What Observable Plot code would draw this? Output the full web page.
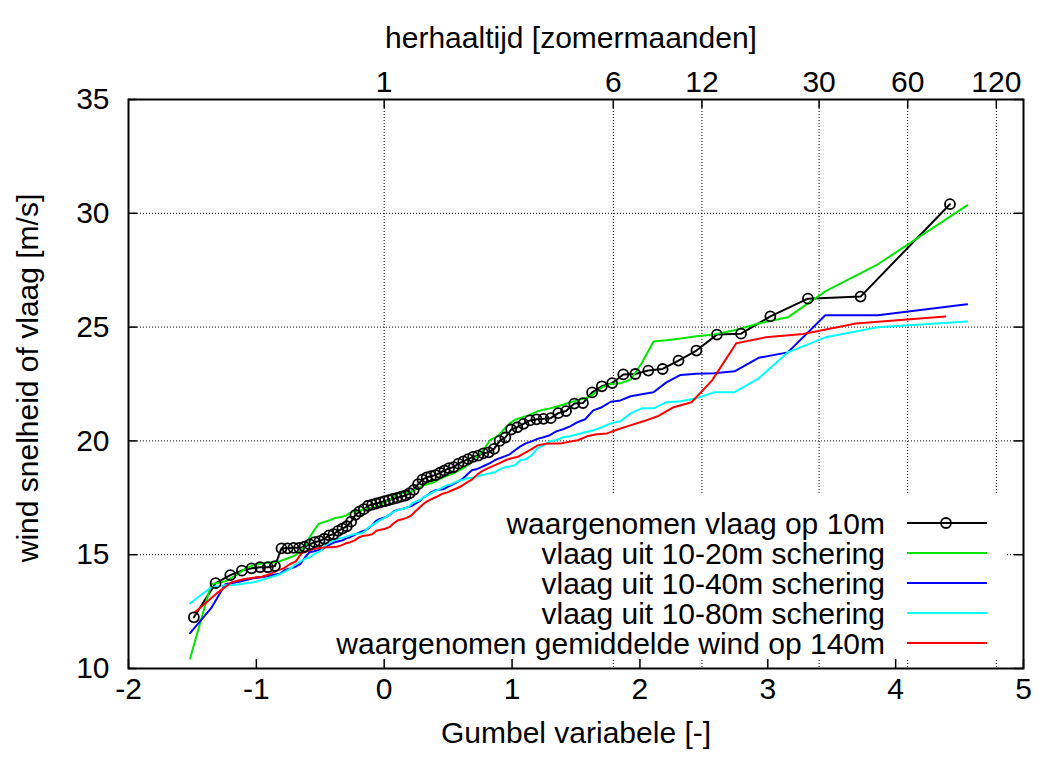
<!DOCTYPE html>
<html>
<head>
<meta charset="utf-8">
<script src="https://cdn.jsdelivr.net/npm/d3@7"></script>
<script src="https://cdn.jsdelivr.net/npm/@observablehq/plot@0.6"></script>
<style>
  html, body { margin: 0; padding: 0; background: #fff; }
</style>
</head>
<body>
<div id="chart"></div>
<script>
// ---- tick labels ----
const xTicks = [-2, -1, 0, 1, 2, 3, 4, 5];          // Gumbel variabele
const yTicks = [10, 15, 20, 25, 30, 35];            // wind speed
const yGrid = [15, 20, 25, 30];
const x2Ticks = [1, 6, 12, 30, 60, 120];            // herhaaltijd [zomermaanden], placed at ln(T)

// ---- sorted sample values (m/s), plotted at Gumbel plotting positions of their rank ----
const obs10 = [
  12.25, 13.75, 14.1, 14.3, 14.4, 14.45, 14.45, 14.5, 15.28, 15.28,
  15.3, 15.3, 15.35, 15.45, 15.55, 15.6, 15.7, 15.85, 15.9, 16.05,
  16.15, 16.25, 16.45, 16.75, 16.9, 17.0, 17.15, 17.2, 17.25, 17.3,
  17.35, 17.4, 17.45, 17.5, 17.55, 17.6, 17.7, 17.85, 18.1, 18.3,
  18.4, 18.45, 18.5, 18.6, 18.7, 18.8, 18.85, 19.0, 19.1, 19.2,
  19.3, 19.35, 19.45, 19.5, 19.65, 20.0, 20.15, 20.5, 20.6, 20.75,
  20.9, 20.95, 20.97, 21.0, 21.22, 21.31, 21.64, 21.66, 22.13, 22.4,
  22.54, 22.92, 22.94, 23.09, 23.16, 23.53, 23.97, 24.67, 24.71, 25.47,
  26.25, 26.34, 30.4
];
const gust20 = [
  10.44, 13.70, 13.83, 14.10, 14.40, 14.54, 14.60, 14.65, 14.67, 14.71,
  14.80, 14.89, 14.98, 15.2, 15.37, 15.77, 16.07, 16.34, 16.42, 16.47,
  16.53, 16.60, 16.64, 16.67, 16.73, 16.84, 16.91, 16.93, 16.95, 17.0,
  17.04, 17.06, 17.1, 17.17, 17.26, 17.35, 17.43, 17.57, 17.68, 17.70,
  17.72, 17.74, 17.79, 17.87, 17.96, 18.05, 18.09, 18.14, 18.2, 18.31,
  18.40, 18.47, 18.53, 18.6, 18.71, 18.8, 18.93, 19.15, 19.28, 19.46,
  19.72, 20.03, 20.14, 20.29, 20.55, 20.77, 20.93, 21.01, 21.08, 21.19,
  21.30, 21.37, 21.43, 21.50, 21.59, 21.70, 21.78, 21.87, 22.05, 22.35,
  22.5, 22.53, 22.7, 23.41, 24.37, 24.42, 24.5, 24.6, 24.68, 24.86,
  25.16, 25.43, 26.57, 27.76, 30.35
];
const gust40 = [
  11.55, 12.65, 13.70, 13.79, 13.88, 13.97, 14.01, 14.05, 14.12, 14.16,
  14.34, 14.40, 14.47, 14.60, 14.89, 15.11, 15.15, 15.20, 15.24, 15.37,
  15.46, 15.55, 15.59, 15.63, 15.72, 15.77, 15.85, 15.94, 16.01, 16.07,
  16.16, 16.29, 16.47, 16.56, 16.62, 16.67, 16.78, 16.91, 16.97, 17.0,
  17.04, 17.1, 17.15, 17.26, 17.35, 17.52, 17.61, 17.74, 17.83, 17.85,
  17.87, 17.96, 18.05, 18.14, 18.23, 18.36, 18.53, 18.71, 18.75, 18.84,
  18.93, 19.02, 19.15, 19.24, 19.32, 19.41, 19.59, 19.76, 19.89, 19.98,
  20.09, 20.16, 20.25, 20.42, 20.51, 20.64, 20.82, 20.95, 21.34, 21.48,
  21.72, 21.78, 21.96, 22.05, 22.14, 22.57, 22.90, 22.95, 22.97, 23.06,
  23.65, 23.89, 25.52, 25.52, 26.0
];
const gust80 = [
  12.87, 13.57, 13.66, 13.68, 13.75, 13.79, 13.88, 13.97, 14.05, 14.14,
  14.27, 14.40, 14.58, 14.71, 14.82, 14.89, 15.02, 15.11, 15.24, 15.46,
  15.55, 15.63, 15.72, 15.74, 15.79, 15.85, 15.90, 15.92, 15.94, 16.03,
  16.2, 16.29, 16.4, 16.51, 16.58, 16.67, 16.78, 16.89, 16.95, 17.0,
  17.04, 17.1, 17.26, 17.33, 17.39, 17.52, 17.61, 17.70, 17.79, 17.87,
  17.96, 18.05, 18.09, 18.18, 18.25, 18.29, 18.36, 18.38, 18.42, 18.49,
  18.53, 18.58, 18.62, 18.75, 18.84, 18.88, 18.93, 19.15, 19.19, 19.37,
  19.67, 19.81, 19.98, 20.03, 20.16, 20.2, 20.29, 20.38, 20.47, 20.6,
  20.77, 20.86, 21.21, 21.43, 21.43, 21.70, 21.74, 21.87, 22.14, 22.14,
  22.75, 23.89, 24.55, 24.99, 25.25
];
const mean140 = [
  12.47, 13.31, 13.79, 13.92, 13.99, 14.03, 14.14, 14.30, 14.40, 14.58,
  14.71, 15.06, 15.15, 15.24, 15.28, 15.31, 15.33, 15.33, 15.35, 15.41,
  15.5, 15.55, 15.63, 15.77, 15.83, 15.85, 15.9, 16.05, 16.1, 16.14,
  16.21, 16.38, 16.51, 16.56, 16.62, 16.71, 16.91, 17.08, 17.26, 17.39,
  17.48, 17.57, 17.68, 17.74, 17.83, 17.92, 18.03, 18.18, 18.31, 18.53,
  18.69, 18.8, 18.91, 19.02, 19.15, 19.24, 19.30, 19.46, 19.63, 19.81,
  19.87, 19.89, 19.89, 19.96, 20.03, 20.2, 20.29, 20.33, 20.51, 20.68,
  20.86, 21.08, 21.48, 21.7, 22.66, 24.29, 24.55, 24.70, 25.16, 25.47
];

const seriesNames = [
  "waargenomen vlaag op 10m",
  "vlaag uit 10-20m schering",
  "vlaag uit 10-40m schering",
  "vlaag uit 10-80m schering",
  "waargenomen gemiddelde wind op 140m"
];
const seriesValues = [obs10, gust20, gust40, gust80, mean140];
const seriesColors = ["#000000", "#00e600", "#0000ff", "#00ffff", "#ff0000"];

// Gumbel reduced variate of the plotting position i/(n+1) for sorted values
function gumbelTable(values) {
  const n = values.length;
  return values.map((v, k) => ({ x: -Math.log(-Math.log((k + 1) / (n + 1))), y: v }));
}
const tables = seriesValues.map(gumbelTable);

// ---- layout ----
const W = 1040, H = 760;
const mL = 128, mR = 17, mT = 99, mB = 92;
const pw = W - mL - mR, ph = H - mT - mB;
const fs = 30;
const font = "'Liberation Sans', Arial, Helvetica, sans-serif";

// opaque key box (hides grid, drawn under the data)
const legendBox = () => d3.create("svg:rect")
  .attr("x", 258).attr("y", 493).attr("width", 747).attr("height", 167)
  .attr("fill", "#fff").node();

// key entries
const legend = () => {
  const g = d3.create("svg:g");
  seriesNames.forEach((name, k) => {
    const cy = 523 + 30 * k;
    g.append("text").attr("x", 885).attr("y", cy + 11)
      .attr("text-anchor", "end").attr("font-size", fs).attr("font-family", font)
      .attr("fill", "#000").text(name);
    g.append("line").attr("x1", 907).attr("x2", 987).attr("y1", cy).attr("y2", cy)
      .attr("stroke", seriesColors[k]).attr("stroke-width", 2);
    if (k === 0) {
      g.append("circle").attr("cx", 946).attr("cy", cy).attr("r", 5)
        .attr("fill", "none").attr("stroke", "#000").attr("stroke-width", 1.8);
    }
  });
  return g.node();
};

const chart = Plot.plot({
  width: W, height: H,
  marginLeft: mL, marginRight: mR, marginTop: mT, marginBottom: mB,
  style: { fontFamily: font, fontSize: fs + "px", background: "#fff", color: "#000" },
  x: { domain: [-2, 5], axis: null },
  y: { domain: [10, 35], axis: null },
  marks: [
    // grid
    Plot.ruleY(yGrid, { y: d => d, stroke: "#000", strokeWidth: 1, strokeDasharray: "1,2" }),
    Plot.ruleX(x2Ticks, { x: d => Math.log(d), stroke: "#000", strokeWidth: 1, strokeDasharray: "1,2" }),
    legendBox,
    // inward tick marks
    Plot.ruleX(xTicks, { x: d => d, insetTop: ph - 9, stroke: "#000", strokeWidth: 1.5 }),
    Plot.ruleX(x2Ticks, { x: d => Math.log(d), insetBottom: ph - 9, stroke: "#000", strokeWidth: 1.5 }),
    Plot.ruleY(yTicks, { y: d => d, insetRight: pw - 9, stroke: "#000", strokeWidth: 1.5 }),
    Plot.ruleY(yTicks, { y: d => d, insetLeft: pw - 9, stroke: "#000", strokeWidth: 1.5 }),
    // data
    ...tables.map((t, k) => Plot.line(t, { x: "x", y: "y", stroke: seriesColors[k], strokeWidth: 2 })),
    Plot.dot(tables[0], { x: "x", y: "y", r: 5, stroke: "#000", strokeWidth: 1.8, fill: "none" }),
    // frame
    Plot.frame({ stroke: "#000", strokeWidth: 2 }),
    // tick labels
    Plot.text(xTicks, { x: d => d, text: d => String(d), frameAnchor: "bottom", dy: 30.6, fontSize: fs }),
    Plot.text(yTicks, { y: d => d, text: d => String(d), frameAnchor: "left", textAnchor: "end", dx: -19, fontSize: fs }),
    Plot.text(x2Ticks, { x: d => Math.log(d), text: d => String(d), frameAnchor: "top", dy: -28.4, fontSize: fs }),
    // axis titles
    Plot.text(["herhaaltijd [zomermaanden]"], { text: d => d, frameAnchor: "top", dx: -5, dy: -72.4, fontSize: fs }),
    Plot.text(["Gumbel variabele [-]"], { text: d => d, frameAnchor: "bottom", dy: 74.6, fontSize: fs }),
    Plot.text(["wind snelheid of vlaag [m/s]"], { text: d => d, frameAnchor: "left", textAnchor: "middle", rotate: -90, dx: -100, dy: -6, fontSize: fs }),
    legend
  ]
});

document.getElementById("chart").appendChild(chart);
</script>
</body>
</html>
